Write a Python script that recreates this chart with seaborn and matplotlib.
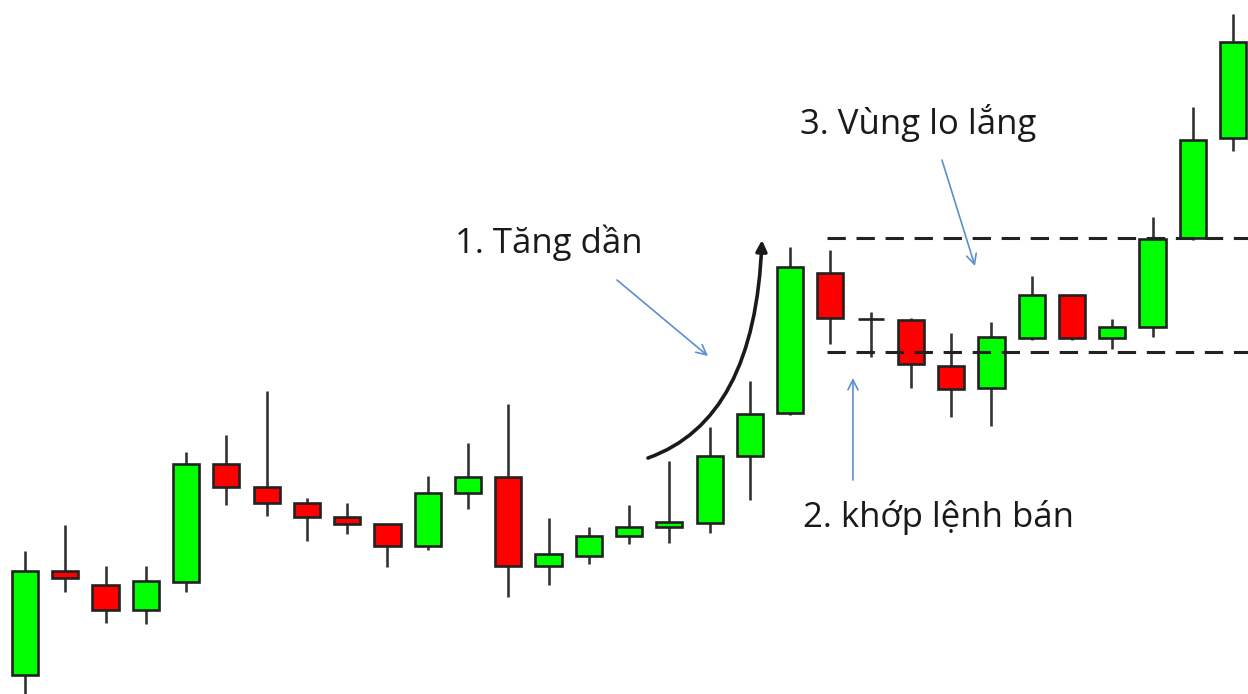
import numpy as np
import pandas as pd
import seaborn as sns
import matplotlib.pyplot as plt
from matplotlib.patches import FancyArrowPatch
from matplotlib.path import Path

# candle values (price units, up = higher)
opens  = [19, 123, 109, 84, 112, 230, 207, 191, 177, 170, 148, 201, 217, 128, 138, 158,
          167, 171, 238, 281, 421, 375, 374, 328, 306, 356, 399, 356, 367, 456, 556]
closes = [123, 116, 84, 113, 230, 207, 191, 177, 170, 148, 201, 217, 128, 140, 158, 167,
          172, 238, 280, 427, 376, 375, 330, 305, 357, 399, 356, 367, 455, 554, 652]
highs  = [143, 169, 128, 128, 242, 259, 303, 196, 191, 170, 218, 251, 290, 176, 167, 189,
          233, 267, 313, 447, 444, 382, 376, 361, 372, 418, 399, 375, 477, 587, 680]
lows   = [-10, 102, 71, 70, 102, 189, 178, 153, 160, 127, 144, 185, 97, 109, 130, 150,
          151, 161, 194, 279, 350, 337, 306, 277, 268, 354, 354, 345, 357, 454, 543]

range_top = 456
range_bottom = 342
range_start = 19.92

labels = ["1. Tăng dần", "2. khớp lệnh bán", "3. Vùng lo lắng"]

df = pd.DataFrame({"open": opens, "close": closes, "high": highs, "low": lows})
df["idx"] = np.arange(len(df))
df["up"] = df["close"] >= df["open"]
df["bottom"] = df[["open", "close"]].min(axis=1)
df["height"] = (df["close"] - df["open"]).abs()

sns.set_theme(style="white")
plt.rcParams['font.family'] = ['Open Sans', 'DejaVu Sans']

fig = plt.figure(figsize=(12.48, 6.94), dpi=100)
ax = fig.add_axes([0, 0, 1, 1])

# wicks
ax.vlines(df["idx"], df["low"], df["high"], color="#333333", linewidth=1.9, zorder=1)

# bodies
colors = ["#00ff00" if u else "#ff0000" for u in df["up"]]
ax.bar(df["idx"], df["height"], bottom=df["bottom"], width=0.65, color=colors,
       edgecolor="#222222", linewidth=1.9, zorder=2)

# range lines
ax.hlines([range_top, range_bottom], range_start, 31, colors="#222222",
          linestyles=(0, (6, 3.5)), linewidth=2.2, zorder=3)

ax.set_xlim(-0.621, 30.37)
ax.set_ylim(0, 694)
ax.axis("off")

# curved black arrow
curve = Path([(15.47, 236), (18.13, 274), (18.30, 454)],
             [Path.MOVETO, Path.CURVE3, Path.CURVE3])
ax.add_patch(FancyArrowPatch(path=curve, arrowstyle="-|>", mutation_scale=16,
                             color="#1a1a1a", linewidth=2.6, zorder=4))

# blue pointer arrows
blue = "#5b8fd0"
for (x0, y0), (x1, y1) in [((14.70, 414), (16.96, 338)),
                           ((20.56, 214), (20.56, 316)),
                           ((22.77, 534), (23.59, 428))]:
    ax.annotate("", xy=(x1, y1), xytext=(x0, y0),
                arrowprops=dict(arrowstyle="->,head_length=0.6,head_width=0.3",
                                color=blue, linewidth=1.2, shrinkA=0, shrinkB=0))

ax.text(10.68, 441, labels[0], fontsize=25, color="#1a1a1a", va="baseline", ha="left")
ax.text(19.32, 167, labels[1], fontsize=25, color="#1a1a1a", va="baseline", ha="left")
ax.text(19.25, 560, labels[2], fontsize=25, color="#1a1a1a", va="baseline", ha="left")

fig.savefig("out.png", dpi=100, facecolor="white")
